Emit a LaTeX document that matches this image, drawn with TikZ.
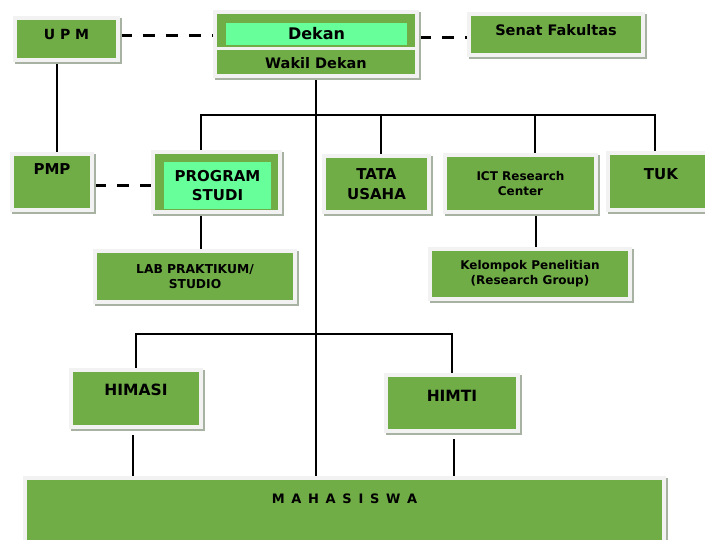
\documentclass[tikz,border=0pt]{standalone}
\usepackage{fontspec}
\setmainfont{DejaVu Sans}
\usepackage{tikz}
\usetikzlibrary{shadows, backgrounds}
\definecolor{unitgreen}{RGB}{112,173,71}
\definecolor{litegreen}{RGB}{102,255,153}
\definecolor{framegray}{RGB}{242,242,242}
\definecolor{shadegray}{RGB}{168,178,162}
\tikzset{unit/.style={shape=rectangle, fill=unitgreen, draw=framegray,
    line width=4pt, inner sep=2pt, align=center,
    drop shadow={shadow xshift=2pt, shadow yshift=-2pt, fill=shadegray,
      draw=shadegray, line width=4pt, opacity=1}}}
\tikzset{subunit/.style={shape=rectangle, fill=litegreen, inner sep=0pt,
    align=center}}
\tikzset{txt/.style 2 args={font=\bfseries\fontsize{#1}{#2}\selectfont}}
\tikzset{link/.style={draw=black, line width=1.8pt}}
\tikzset{coop/.style={draw=black, line width=3pt, dash pattern=on 12pt off 11pt}}

\begin{document}
\begin{tikzpicture}[x=1pt, y=-1pt]
      \useasboundingbox (0,0) rectangle (705,539);
      % pimpinan
      \node[unit, minimum width=202, minimum height=64] (pimpinan) at (316,44) {};
      \coordinate (split) at (316,48.5);
      \draw[framegray, line width=3pt] (pimpinan.west |- split) -- (pimpinan.east |- split);
      \node[subunit, minimum width=181, minimum height=22, txt={16}{16}] (dekan) at (316.5,34) {Dekan};
      \node[inner sep=0pt, txt={14.5}{14.5}] (wakil) at (316,63) {Wakil Dekan};
      \node[unit, minimum width=103, minimum height=42, text depth=10pt, txt={14}{14}] (upm) at (66.5,39) {U P M};
      \node[unit, minimum width=174, minimum height=41, text depth=9pt, txt={14.5}{14.5}] (senat) at (556,34.5) {Senat Fakultas};
      % unit di bawah dekan
      \node[unit, minimum width=80, minimum height=56, text depth=26pt, txt={15}{15}] (pmp) at (52,182) {PMP};
      \node[unit, minimum width=127, minimum height=60] (prodi) at (216.5,182) {};
      \node[subunit, minimum width=107, minimum height=47, txt={15}{19}] (prodilabel) at (217.5,185.5) {PROGRAM\\STUDI};
      \node[unit, minimum width=105, minimum height=56, txt={15}{20}] (tata) at (376.5,184) {TATA\\USAHA};
      \node[unit, minimum width=151, minimum height=57, txt={12}{15.5}] (ict) at (520.5,183.5) {ICT Research\\Center};
      \node[unit, minimum width=106, minimum height=57, text depth=15pt, txt={15}{15}] (tuk) at (661,181.5) {TUK};
      \node[unit, minimum width=200, minimum height=51, txt={12.3}{15}] (lab) at (195,276.5) {LAB PRAKTIKUM/\\STUDIO};
      \node[unit, minimum width=200, minimum height=50, txt={12}{15}] (riset) at (530,274) {Kelompok Penelitian\\(Research Group)};
      % himpunan & mahasiswa
      \node[unit, minimum width=130, minimum height=57, text depth=18pt, txt={15.5}{15.5}] (himasi) at (136,398.5) {HIMASI};
      \node[unit, minimum width=132, minimum height=56, text depth=15pt, txt={15.5}{15.5}] (himti) at (452,403) {HIMTI};
      \node[unit, minimum width=639, minimum height=69, text depth=26pt, txt={13}{13}] (mhs) at (344.5,512) {\spaceskip=6.7pt M A H A S I S W A};
      \begin{scope}[on background layer]
        \fill[white] (0,0) rectangle (705,539);
        \coordinate (upbus) at (316,115);
        \coordinate (lowbus) at (316,334);
        \path[link] (pimpinan.south) edge (pimpinan.south |- mhs.north);
        \draw[link] ([xshift=-15.5]prodi.north) |- (upbus) -| ([xshift=-6]tuk.north);
        \foreach \sect/\dx in {tata/4.5, ict/14.5}
          \draw[link] ([xshift=\dx]\sect.north) -- ([xshift=\dx]\sect.north |- upbus);
        \draw[link] ([xshift=-15.5]prodi.south) -- ([xshift=-15.5]prodi.south |- lab.north);
        \draw[link] ([xshift=15.5]ict.south) -- ([xshift=15.5]ict.south |- riset.north);
        \draw[link] ([xshift=-9.5]upm.south) -- ([xshift=-9.5]upm.south |- pmp.north);
        \draw[link] (himasi.north) |- (lowbus) -| (himti.north);
        \draw[link, shorten <=6pt] ([xshift=-3]himasi.south) -- ([xshift=-3]himasi.south |- mhs.north);
        \draw[link, shorten <=6pt] ([xshift=2]himti.south) -- ([xshift=2]himti.south |- mhs.north);
        % garis koordinasi
        \draw[coop] ([yshift=4]upm.east) -- ([yshift=4]upm.east -| pimpinan.west);
        \draw[coop] ([yshift=7]pimpinan.east) -- ([yshift=7]pimpinan.east -| senat.west);
        \draw[coop] ([yshift=-3]pmp.east) -- ([yshift=-3]pmp.east -| prodi.west);
      \end{scope}
    \end{tikzpicture}
\end{document}
